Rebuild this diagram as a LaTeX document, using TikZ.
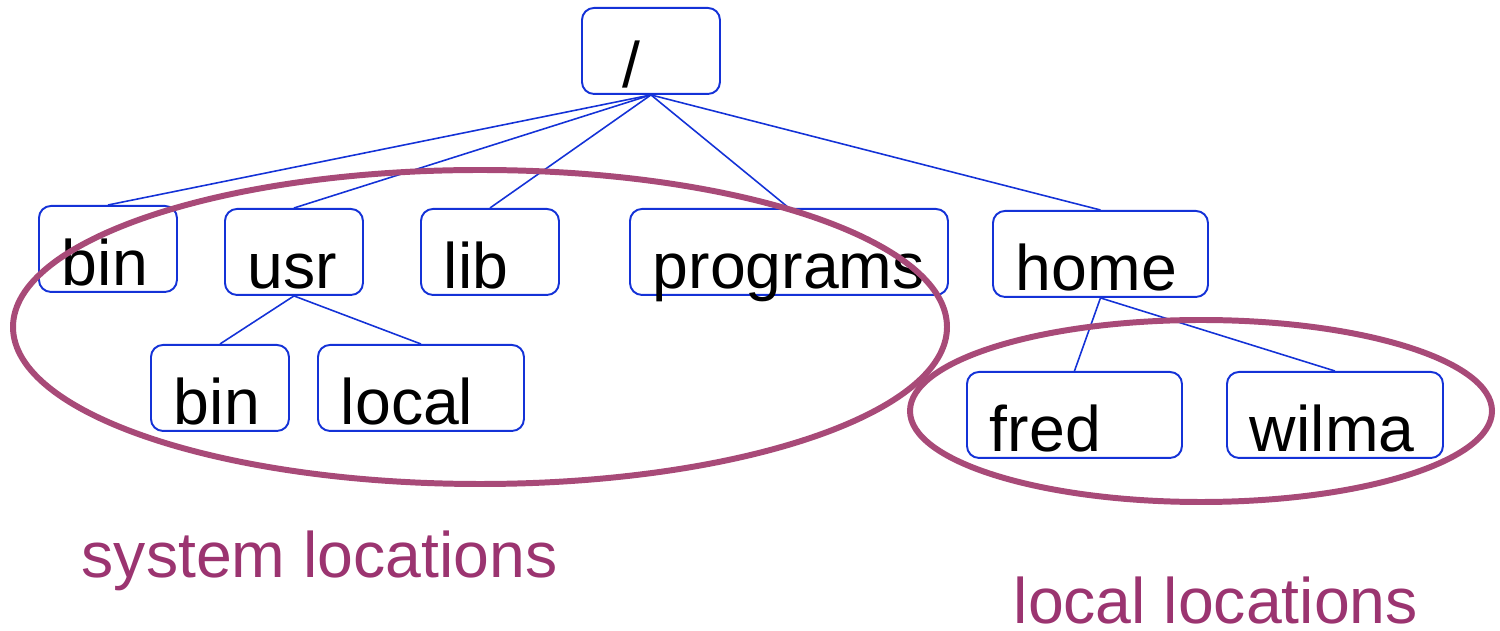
\documentclass[tikz,border=0pt]{standalone}
\usepackage{fontspec}
\setmainfont{Liberation Sans}
\newlength\pxu
\setlength\pxu{0.01cm}
\definecolor{boxblue}{RGB}{20,50,215}
\definecolor{ringpurple}{RGB}{168,74,120}
\definecolor{labelpurple}{RGB}{155,52,112}
\tikzset{
  dirbox/.style={draw=boxblue, line width=0.55pt, rounded corners=12\pxu, anchor=north west,
    inner xsep=23\pxu, inner ysep=6\pxu, text height=74\pxu, text depth=0pt, align=left,
    font=\fontsize{18.3}{22}\selectfont},
  link/.style={draw=boxblue, line width=0.45pt},
  ring/.style={draw=ringpurple, line width=1.7pt},
  grouplabel/.style={anchor=base west, inner sep=0pt, text=labelpurple, font=\fontsize{18.3}{22}\selectfont}
}
\begin{document}
\begin{tikzpicture}[x=\pxu, y=-\pxu]
\useasboundingbox (0,0) rectangle (1500,631);
\node[dirbox, inner xsep=41\pxu, text width=56\pxu] (root) at (581,7) {/};
\foreach \n/\t/\x/\y/\w in {bin/bin/38/205/92, usr/usr/224/208/92, lib/lib/420/208/92,
    programs/programs/629/208/272, home/home/992/210/169, usrbin/bin/150/344/92,
    usrlocal/local/317/344/160, fred/fred/966/371/169, wilma/wilma/1226/371/170}
  \node[dirbox, text width=\w\pxu] (\n) at (\x,\y) {\t};
\foreach \c in {bin,usr,lib,programs,home}
  \draw[link] (root.south) -- (\c.north);
\foreach \c in {usrbin,usrlocal}
  \draw[link] (usr.south) -- (\c.north);
\foreach \c in {fred,wilma}
  \draw[link] (home.south) -- (\c.north);
\draw[ring] (480,327) ellipse [x radius=467\pxu, y radius=157\pxu];
\draw[ring] (1201,411) ellipse [x radius=291\pxu, y radius=91\pxu];
\node[grouplabel] (syslabel) at (81,578) {system locations};
\node[grouplabel] (loclabel) at (1013,624) {local locations};
\end{tikzpicture}
\end{document}
